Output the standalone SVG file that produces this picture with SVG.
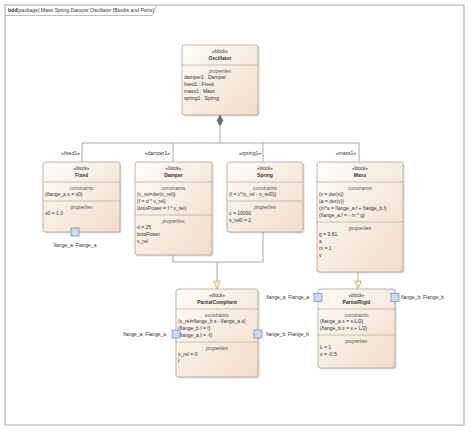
<svg xmlns="http://www.w3.org/2000/svg" width="472" height="432" viewBox="0 0 472 432">
<style>
text{font-family:"Liberation Sans",Arial,sans-serif;font-size:5px;fill:#333}
.c{text-anchor:middle}
.r{text-anchor:end}
.st{font-size:4.6px}
.nm{font-weight:bold}
.sec{font-style:italic;text-anchor:middle;fill:#555}
.blk{fill:url(#g);stroke:#a89a8c;stroke-width:0.7}
.shd{fill:#000;opacity:0.12}
.sep{stroke:#a89a8c;stroke-width:0.6}
.ln{stroke:#8a96a8;stroke-width:0.8;fill:none}
.port{fill:#c9dcf2;stroke:#6f86a8;stroke-width:0.7}
.gen{fill:#fbe8b4;stroke:#c9a35c;stroke-width:0.7}
</style>
<defs>
<linearGradient id="g" x1="0" y1="0" x2="1" y2="1">
<stop offset="0" stop-color="#fffcf9"/>
<stop offset="1" stop-color="#f0dcc8"/>
</linearGradient>
</defs>
<rect width="472" height="432" fill="#fff"/>
<g id="frame">
<rect x="5" y="5" width="459" height="420" fill="none" stroke="#a0a0a0" stroke-width="0.9"/>
<path d="M5,15.5 H152 L157,5" fill="none" stroke="#a0a0a0" stroke-width="0.7"/>
<text x="8" y="12" style="font-size:5.1px"><tspan font-weight="bold">bdd</tspan>[package] Mass Spring Damper Oscillator [Blocks and Ports]</text>
</g>
<g id="connectors">
<path class="ln" d="M220,126 V143 M82,143 H359 M82,143 V162 M173,143 V162 M263,143 V162 M359,143 V162"/>
<path d="M220,115 L223,120.5 L220,126 L217,120.5 Z" fill="#5e6b80" stroke="#4e5a6c" stroke-width="0.5"/>
<text class="r" x="80" y="154.8">«fixed1»</text>
<text class="r" x="170" y="154.8">«damper1»</text>
<text class="r" x="261" y="154.8">«spring1»</text>
<text class="r" x="356" y="154.8">«mass1»</text>
<path class="ln" d="M173,255 V262 M263,232 V262 M173,262 H263 M217,262 V281 M358,272 V281"/>
<path class="gen" d="M213.5,281 H220.5 L217,289 Z"/>
<path class="gen" d="M354.5,281 H361.5 L358,289 Z"/>
</g>
<g id="Oscillator">
<rect class="shd" x="183.5" y="46.5" width="76" height="70" rx="2"/>
<rect class="blk" x="182" y="45" width="76" height="70" rx="2"/>
<text class="c st" x="220" y="52.8">«block»</text>
<text class="c nm" x="220" y="59.8">Oscillator</text>
<line class="sep" x1="182" y1="65" x2="258" y2="65"/>
<text class="sec" x="220" y="72.8">properties</text>
<text x="184" y="79.3">damper1 : Damper</text>
<text x="184" y="86.3">fixed1 : Fixed</text>
<text x="184" y="93.3">mass1 : Mass</text>
<text x="184" y="100.3">spring1 : Spring</text>
</g>
<g id="Fixed">
<rect class="shd" x="44.5" y="163.5" width="77" height="70" rx="2"/>
<rect class="blk" x="43" y="162" width="77" height="70" rx="2"/>
<text class="c st" x="81.5" y="169.8">«block»</text>
<text class="c nm" x="81.5" y="176.8">Fixed</text>
<line class="sep" x1="43" y1="182" x2="120" y2="182"/>
<text class="sec" x="81.5" y="189.8">constraints</text>
<text x="45" y="196.3">{flange_a.s = s0}</text>
<line class="sep" x1="43" y1="201" x2="120" y2="201"/>
<text class="sec" x="81.5" y="208.8">properties</text>
<text x="45" y="215.3">s0 = 1.0</text>
<rect class="port" x="71" y="228" width="8" height="8"/>
<text class="c" x="75" y="246.8">flange_a: Flange_a</text>
</g>
<g id="Damper">
<rect class="shd" x="136.5" y="163.5" width="77" height="93" rx="2"/>
<rect class="blk" x="135" y="162" width="77" height="93" rx="2"/>
<text class="c st" x="173.5" y="169.8">«block»</text>
<text class="c nm" x="173.5" y="176.8">Damper</text>
<line class="sep" x1="135" y1="182" x2="212" y2="182"/>
<text class="sec" x="173.5" y="189.8">constraints</text>
<text x="137" y="196.3">{v_rel=der(s_rel)}</text>
<text x="137" y="203.3">{f = d * v_rel}</text>
<text x="137" y="210.3">{lossPower = f * v_rel}</text>
<line class="sep" x1="135" y1="215" x2="212" y2="215"/>
<text class="sec" x="173.5" y="222.8">properties</text>
<text x="137" y="229.3">d = 25</text>
<text x="137" y="236.3">lossPower</text>
<text x="137" y="243.3">v_rel</text>
</g>
<g id="Spring">
<rect class="shd" x="228.5" y="163.5" width="76" height="70" rx="2"/>
<rect class="blk" x="227" y="162" width="76" height="70" rx="2"/>
<text class="c st" x="265" y="169.8">«block»</text>
<text class="c nm" x="265" y="176.8">Spring</text>
<line class="sep" x1="227" y1="182" x2="303" y2="182"/>
<text class="sec" x="265" y="189.8">constraints</text>
<text x="229" y="196.3">{f = c*(s_rel - s_rel0)}</text>
<line class="sep" x1="227" y1="201" x2="303" y2="201"/>
<text class="sec" x="265" y="208.8">properties</text>
<text x="229" y="215.3">c = 10000</text>
<text x="229" y="222.3">s_rel0 = 2</text>
</g>
<g id="Mass">
<rect class="shd" x="318.5" y="163.5" width="86" height="110" rx="2"/>
<rect class="blk" x="317" y="162" width="86" height="110" rx="2"/>
<text class="c st" x="360" y="169.8">«block»</text>
<text class="c nm" x="360" y="176.8">Mass</text>
<line class="sep" x1="317" y1="182" x2="403" y2="182"/>
<text class="sec" x="360" y="189.8">constraints</text>
<text x="319" y="196.3">{v = der(s)}</text>
<text x="319" y="203.3">{a = der(v)}</text>
<text x="319" y="210.3">{m*a = flange_a.f + flange_b.f}</text>
<text x="319" y="217.3">{flange_a.f = - m * g}</text>
<line class="sep" x1="317" y1="222" x2="403" y2="222"/>
<text class="sec" x="360" y="229.8">properties</text>
<text x="319" y="236.3">g = 9.81</text>
<text x="319" y="243.3">a</text>
<text x="319" y="250.3">m = 1</text>
<text x="319" y="257.3">v</text>
</g>
<g id="PartialCompliant">
<rect class="shd" x="177.5" y="290.5" width="82" height="88" rx="2"/>
<rect class="blk" x="176" y="289" width="82" height="88" rx="2"/>
<text class="c st" x="217" y="296.8">«block»</text>
<text class="c nm" x="217" y="303.8">PartialCompliant</text>
<line class="sep" x1="176" y1="309" x2="258" y2="309"/>
<text class="sec" x="217" y="316.8">constraints</text>
<text x="178" y="323.3">{s_rel=flange_b.s - flange_a.s}</text>
<text x="178" y="330.3">{flange_b.f = f}</text>
<text x="178" y="337.3">{flange_a.f = -f}</text>
<line class="sep" x1="176" y1="342" x2="258" y2="342"/>
<text class="sec" x="217" y="349.8">properties</text>
<text x="178" y="356.3">s_rel = 0</text>
<text x="178" y="363.3">f</text>
<rect class="port" x="172" y="330" width="8" height="8"/>
<rect class="port" x="254" y="330" width="8" height="8"/>
<text class="r" x="166" y="335.8">flange_a: Flange_a</text>
<text x="266" y="335.8">flange_b: Flange_b</text>
</g>
<g id="PartialRigid">
<rect class="shd" x="319.5" y="290.5" width="77" height="79" rx="2"/>
<rect class="blk" x="318" y="289" width="77" height="79" rx="2"/>
<text class="c st" x="356.5" y="296.8">«block»</text>
<text class="c nm" x="356.5" y="303.8">PartialRigid</text>
<line class="sep" x1="318" y1="309" x2="395" y2="309"/>
<text class="sec" x="356.5" y="316.8">constraints</text>
<text x="320" y="323.3">{flange_a.s = s-L/2}</text>
<text x="320" y="330.3">{flange_b.s = s + L/2}</text>
<line class="sep" x1="318" y1="335" x2="395" y2="335"/>
<text class="sec" x="356.5" y="342.8">properties</text>
<text x="320" y="349.3">L = 1</text>
<text x="320" y="356.3">s = -0.5</text>
<rect class="port" x="314" y="293.5" width="8" height="8"/>
<rect class="port" x="391" y="293.5" width="8" height="8"/>
<text class="r" x="309" y="299.3">flange_a: Flange_a</text>
<text x="401" y="299.3">flange_b: Flange_b</text>
</g>
</svg>
